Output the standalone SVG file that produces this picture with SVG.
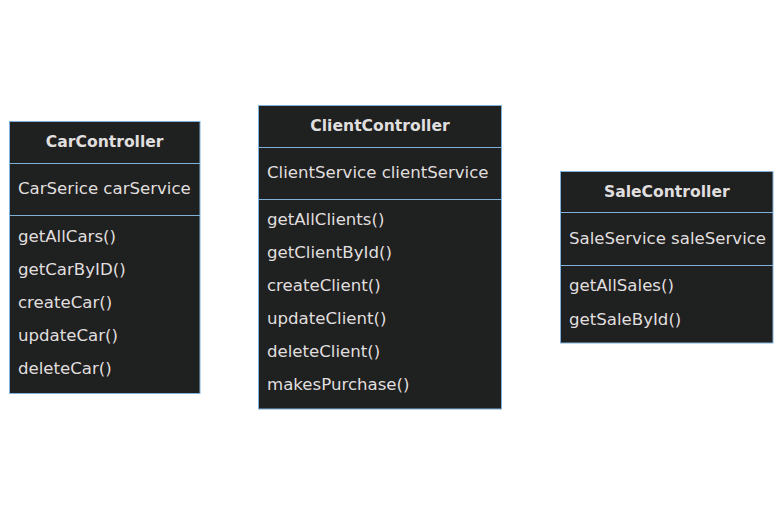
<svg xmlns="http://www.w3.org/2000/svg" width="783" height="515" viewBox="0 0 783 515">
<style>
.box{fill:#1f2020;stroke:#81b1db;stroke-width:1}
.div{stroke:#81b1db;stroke-width:1}
text{font-family:"DejaVu Sans","Liberation Sans",sans-serif;font-size:16.6px;fill:#e0dfdf}
.title{font-weight:bold;font-size:15.6px;text-anchor:middle}
</style>
<rect width="783" height="515" fill="#ffffff"/>
<g id="CarController">
<rect class="box" x="9.5" y="121.5" width="190.5" height="272"/>
<line class="div" x1="9.5" y1="163.5" x2="200" y2="163.5"/>
<line class="div" x1="9.5" y1="215.5" x2="200" y2="215.5"/>
<text class="title" x="104.7" y="147">CarController</text>
<text x="18" y="194">CarSerice carService</text>
<text x="18" y="242">getAllCars()</text>
<text x="18" y="275">getCarByID()</text>
<text x="18" y="308">createCar()</text>
<text x="18" y="341">updateCar()</text>
<text x="18" y="374">deleteCar()</text>
</g>
<g id="ClientController">
<rect class="box" x="258.5" y="105.5" width="243" height="303.5"/>
<line class="div" x1="258.5" y1="147.5" x2="501.5" y2="147.5"/>
<line class="div" x1="258.5" y1="199.5" x2="501.5" y2="199.5"/>
<text class="title" x="380" y="131">ClientController</text>
<text x="267" y="178">ClientService clientService</text>
<text x="267" y="225">getAllClients()</text>
<text x="267" y="258">getClientById()</text>
<text x="267" y="291">createClient()</text>
<text x="267" y="324">updateClient()</text>
<text x="267" y="357">deleteClient()</text>
<text x="267" y="390">makesPurchase()</text>
</g>
<g id="SaleController">
<rect class="box" x="560.5" y="171.5" width="212.5" height="171.5"/>
<line class="div" x1="560.5" y1="212.5" x2="773" y2="212.5"/>
<line class="div" x1="560.5" y1="265.5" x2="773" y2="265.5"/>
<text class="title" x="666.8" y="197">SaleController</text>
<text x="569" y="244">SaleService saleService</text>
<text x="569" y="291">getAllSales()</text>
<text x="569" y="325">getSaleById()</text>
</g>
<g id="connectors"></g>
</svg>
